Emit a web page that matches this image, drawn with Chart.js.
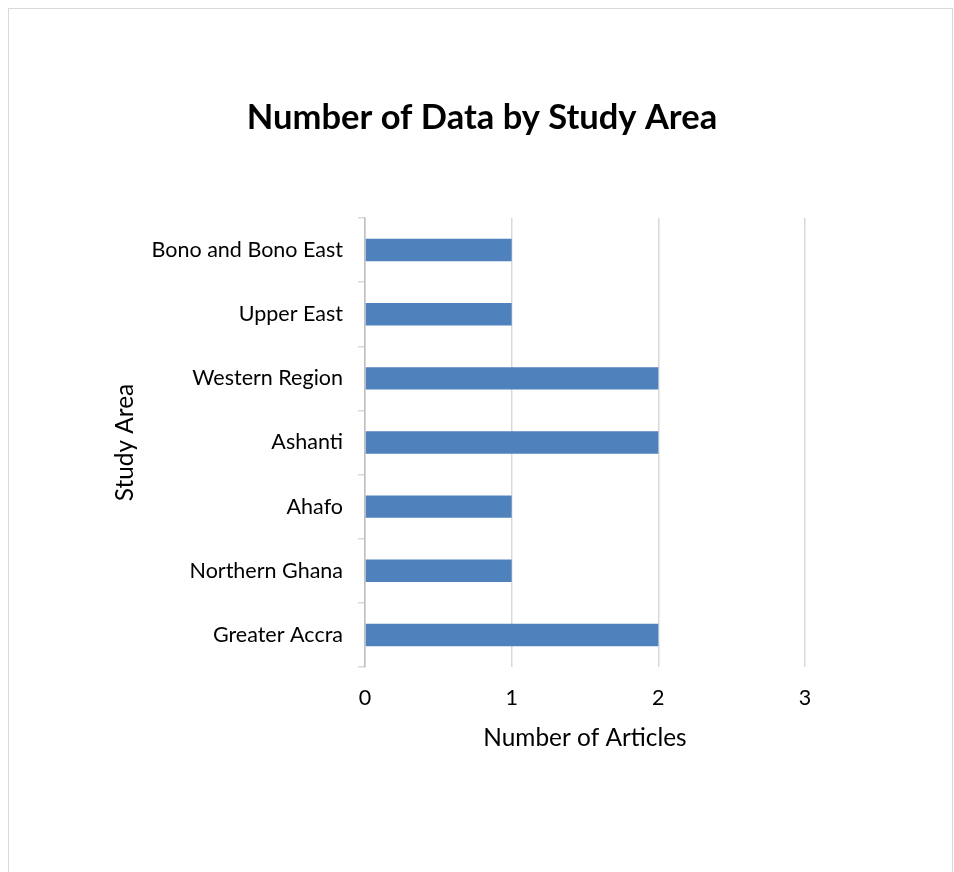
<!DOCTYPE html>
<html>
<head>
<meta charset="utf-8">
<script src="https://cdn.jsdelivr.net/npm/chart.js@4/dist/chart.umd.min.js"></script>
<style>
  html, body { margin: 0; padding: 0; background: #ffffff; }
  #wrap { position: relative; width: 954px; height: 872px; overflow: hidden; }
  #frame { position: absolute; left: 8px; top: 8px; width: 945px; height: 900px;
           border: 1px solid #d9d9d9; box-sizing: border-box; }
  canvas { position: absolute; left: 0; top: 0; }
</style>
</head>
<body>
<div id="wrap">
  <div id="frame"></div>
  <canvas id="chart" width="954" height="872"></canvas>
</div>
<script>
// Study areas, listed top to bottom
const studyAreas = [
  'Bono and Bono East',
  'Upper East',
  'Western Region',
  'Ashanti',
  'Ahafo',
  'Northern Ghana',
  'Greater Accra'
];
// Number of articles per study area
const articleCounts = [1, 1, 2, 2, 1, 1, 2];
// Value axis ticks
const xTicks = [0, 1, 2, 3];

const FONT = 'Lato, "Open Sans", sans-serif';
const TEXT = '#000000';

new Chart(document.getElementById('chart'), {
  type: 'bar',
  data: {
    labels: studyAreas,
    datasets: [{
      label: 'Number of Articles',
      data: articleCounts,
      backgroundColor: '#4f81bd',
      borderWidth: 0,
      barPercentage: 0.35,
      categoryPercentage: 1.0
    }]
  },
  options: {
    indexAxis: 'y',
    responsive: false,
    animation: false,
    layout: { padding: { left: 111, right: 101, top: 0, bottom: 119 } },
    plugins: {
      legend: { display: false },
      tooltip: { enabled: false },
      title: {
        display: true,
        text: 'Number of Data by Study Area',
        color: TEXT,
        font: { family: FONT, size: 34.5, weight: 'bold' },
        padding: { top: 97, bottom: 79.6 }
      }
    },
    scales: {
      x: {
        min: 0,
        max: 3,
        afterBuildTicks: (scale) => { scale.ticks = xTicks.map(v => ({ value: v })); },
        afterFit: (scale) => { scale.height = 86; },
        grid: { color: '#d9d9d9', lineWidth: 1.5, drawTicks: false, tickLength: 0 },
        border: { display: false },
        ticks: { color: TEXT, font: { family: FONT, size: 21.5 }, padding: 18 },
        title: {
          display: true,
          text: 'Number of Articles',
          color: TEXT,
          font: { family: FONT, size: 24.4 },
          padding: { top: 0, bottom: 0 }
        }
      },
      y: {
        afterFit: (scale) => { scale.width = 254; },
        grid: { drawOnChartArea: false, drawTicks: true, tickLength: 7, color: '#d9d9d9', lineWidth: 1.5 },
        border: { display: true, color: '#bfbfbf', width: 1.5 },
        ticks: { color: TEXT, font: { family: FONT, size: 21.5 }, padding: 15 },
        title: {
          display: true,
          text: 'Study Area',
          color: TEXT,
          font: { family: FONT, size: 24.4 },
          padding: { top: 0, bottom: 0 }
        }
      },
      // Empty right-hand gutter so the plot ends where the value axis should
      gutter: {
        type: 'category',
        position: 'right',
        labels: studyAreas,
        afterFit: (scale) => { scale.width = 48; },
        grid: { display: false },
        border: { display: false },
        ticks: { display: false }
      }
    }
  }
});
</script>
</body>
</html>
